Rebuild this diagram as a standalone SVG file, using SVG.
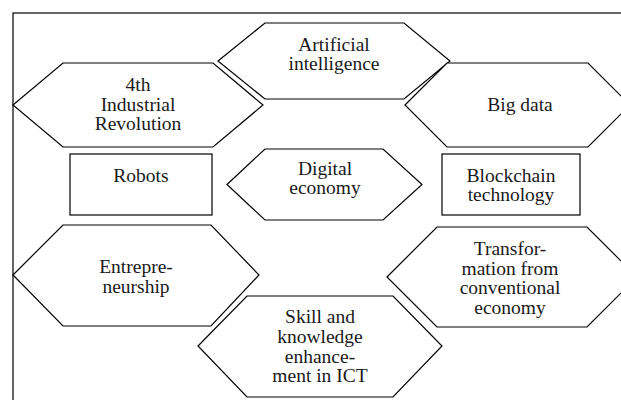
<svg xmlns="http://www.w3.org/2000/svg" width="621" height="400" viewBox="0 0 621 400">
<style>
.s{fill:#fff;stroke:#000;stroke-width:1.2}
text{font-family:"Liberation Serif","Times New Roman",serif;font-size:19.5px;fill:#1a1a1a;text-anchor:middle}
</style>
<rect x="0" y="0" width="621" height="400" fill="#fff"/>
<rect x="13" y="13" width="620" height="400" fill="none" stroke="#000" stroke-width="1.2"/>
<g id="connectors"></g>
<g id="ai">
<polygon class="s" points="218,61 265,23 404,23 450,61 404,99 265,99"/>
<text x="334" y="51">Artificial</text>
<text x="334" y="70">intelligence</text>
</g>
<g id="ir4">
<polygon class="s" points="13,105 63,63 213,63 263,105 213,147 63,147"/>
<text x="138" y="91">4th</text>
<text x="138" y="111">Industrial</text>
<text x="138" y="130">Revolution</text>
</g>
<g id="bigdata">
<polygon class="s" points="405,105 447,63 588,63 630,105 588,147 447,147"/>
<text x="520" y="111">Big data</text>
</g>
<g id="robots">
<rect class="s" x="70" y="154" width="142" height="61"/>
<text x="141" y="182">Robots</text>
</g>
<g id="digital">
<polygon class="s" points="227,184.5 265,149 383,149 422,184.5 383,220 265,220"/>
<text x="325" y="175">Digital</text>
<text x="325" y="194">economy</text>
</g>
<g id="blockchain">
<rect class="s" x="442" y="154" width="138" height="61"/>
<text x="511" y="182">Blockchain</text>
<text x="511" y="201">technology</text>
</g>
<g id="entre">
<polygon class="s" points="13,275 63,225 211,225 259,275 211,326 63,326"/>
<text x="136" y="273">Entrepre-</text>
<text x="136" y="293">neurship</text>
</g>
<g id="transform">
<polygon class="s" points="387,277 437,227 587,227 637,277 587,327 437,327"/>
<text x="510" y="255">Transfor-</text>
<text x="510" y="275">mation from</text>
<text x="510" y="294">conventional</text>
<text x="510" y="314">economy</text>
</g>
<g id="skill">
<polygon class="s" points="198,346 247,296 393,296 442,346 393,397 247,397"/>
<text x="320" y="323">Skill and</text>
<text x="320" y="343">knowledge</text>
<text x="320" y="363">enhance-</text>
<text x="320" y="382">ment in ICT</text>
</g>
</svg>
